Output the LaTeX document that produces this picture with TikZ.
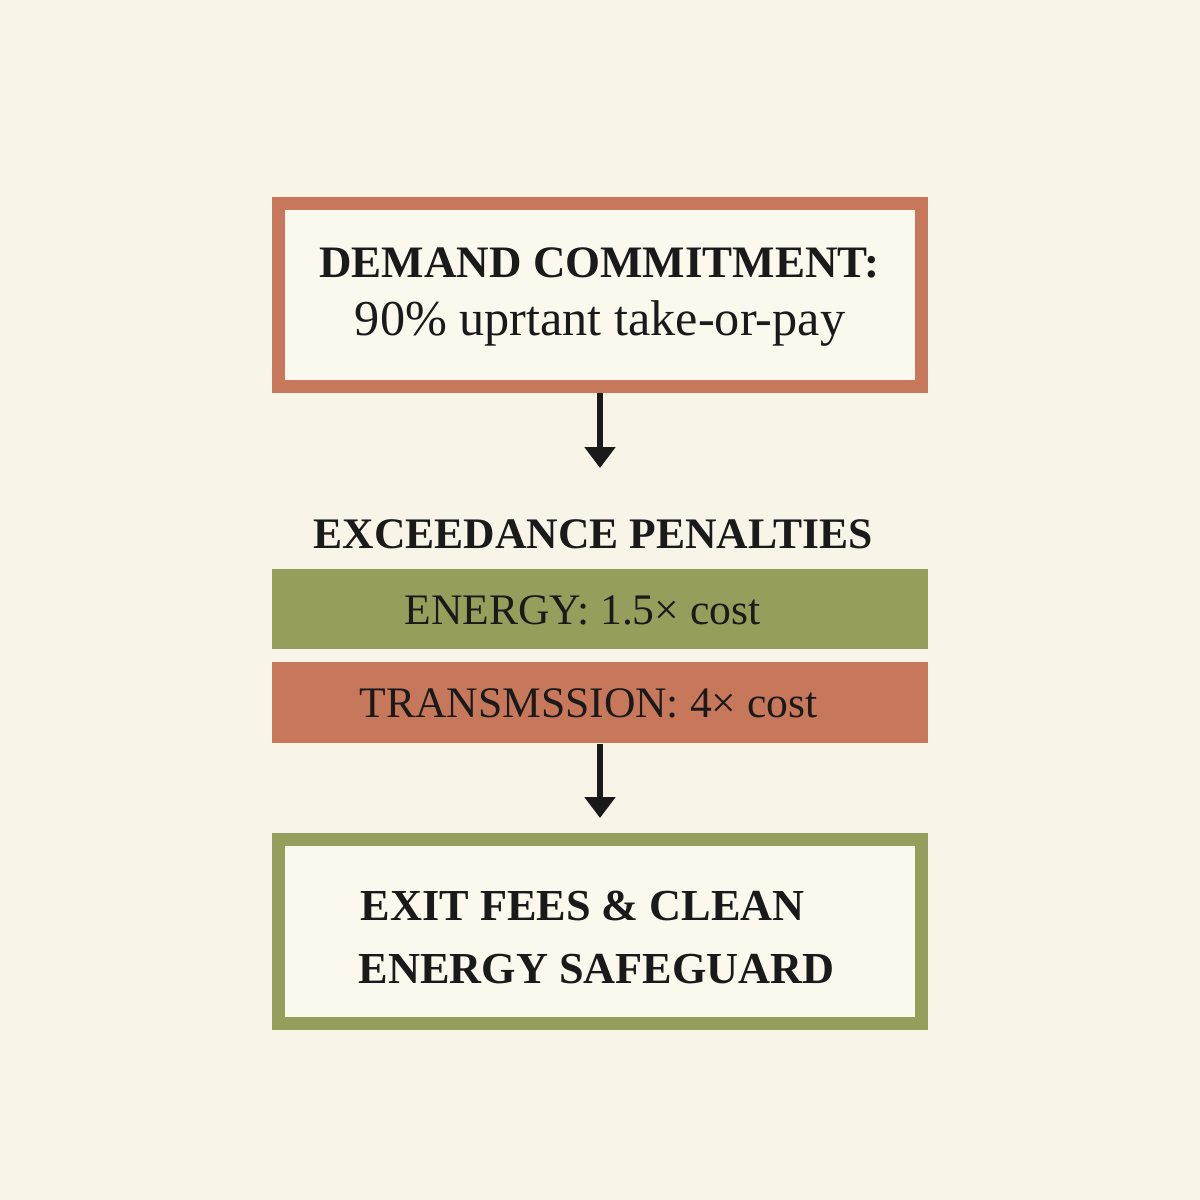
\documentclass[tikz,border=0pt]{standalone}
\usepackage{fontspec}
\setmainfont{Liberation Serif}
\usetikzlibrary{arrows.meta, positioning, calc}
\definecolor{paper}{HTML}{F8F4E8}
\definecolor{panel}{HTML}{FBF8EE}
\definecolor{clay}{HTML}{C8785A}
\definecolor{olive}{HTML}{959F5B}
\definecolor{ink}{HTML}{1A1A1A}

\begin{document}
\begin{tikzpicture}[
  font=\rmfamily,
  framebox/.style={rectangle, line width=0.13cm, fill=panel,
                   minimum width=6.43cm, minimum height=1.83cm},
  bar/.style={rectangle, minimum width=6.56cm, minimum height=0.80cm},
  barlabel/.style={text=ink, inner sep=0pt, text height=0.30cm, text depth=0pt,
                   font=\rmfamily\fontsize{12.4}{15}\selectfont},
  heading/.style={font=\rmfamily\bfseries\fontsize{12.6}{16}\selectfont, text=ink, inner sep=0pt},
  plain/.style={font=\rmfamily\fontsize{14.3}{17}\selectfont, text=ink, inner sep=0pt},
  flow/.style={-{Triangle[width=3mm, length=2.1mm]}, draw=ink, line width=1.8pt}
]
  % canvas
  \fill[paper] (0,0) rectangle (12,-12);
  \useasboundingbox (0,0) rectangle (12,-12);

  % --- commitment box ---
  \node[framebox, draw=clay] (demand) at (6,-2.95) {};
  \node[heading, anchor=base, font=\rmfamily\bfseries\fontsize{12.8}{16}\selectfont]
    (demandhead) at (5.995,-2.77) {DEMAND COMMITMENT:};
  \node[plain, anchor=base] (demandsub) at (6,-3.35) {90\% uprtant take-or-pay};

  % --- penalties: heading + two bars ---
  \node[heading, anchor=base, font=\rmfamily\bfseries\fontsize{12.4}{16}\selectfont]
    (penalties) at (5.93,-5.48) {EXCEEDANCE PENALTIES};
  \node[bar, fill=olive] (energy) at (6,-6.09) {};
  \node[bar, fill=clay, minimum height=0.81cm, below=0.12cm of energy] (trans) {};
  \node[barlabel] (energylabel) at ([xshift=-1.75mm]energy.center) {ENERGY: 1.5× cost};
  \node[barlabel] (translabel) at ([xshift=-1.15mm]trans.center) {TRANSMSSION: 4× cost};

  % --- exit box ---
  \node[framebox, draw=olive, minimum height=1.84cm] (exit) at (6,-9.315) {};
  \node[heading, anchor=base west] (exitone) at (3.60,-9.20) {EXIT FEES \& CLEAN};
  \node[heading, anchor=base west] (exittwo) at (3.58,-9.83) {ENERGY SAFEGUARD};

  % --- arrow ends ---
  \coordinate (penin) at (6,-4.68);
  \coordinate (exitin) at (6,-8.18);

  % --- edges ---
  \draw[flow] (demand.south) -- (penin);
  \draw[flow] (trans.south) -- (exitin);

\end{tikzpicture}
\end{document}
